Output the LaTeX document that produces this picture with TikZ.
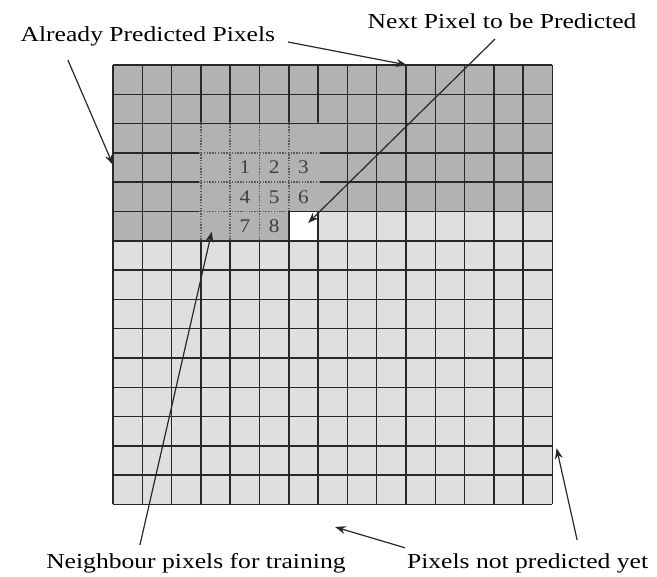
\documentclass[tikz,border=0pt]{standalone}
\usepackage{fontspec}
\setmainfont{Liberation Serif}
\usetikzlibrary{arrows.meta}
\definecolor{donepx}{RGB}{178,178,178}
\definecolor{todopx}{RGB}{223,223,223}
\definecolor{gridink}{RGB}{40,40,40}
\definecolor{dotink}{RGB}{90,90,90}

\begin{document}
\begin{tikzpicture}[x=0.7723cm,y=-0.7723cm,
  gridline/.style={gridink,line width=1.1pt},
  nbline/.style={dotink,densely dotted,line width=1.1pt},
  pointer/.style={-{Stealth[length=8pt,width=6pt]},gridink,line width=0.9pt},
  caption/.style={font=\fontsize{16}{19}\selectfont,xscale=1.2,inner sep=0pt,anchor=base},
  nblabel/.style={font=\fontsize{14.5}{17}\selectfont,black!75,xscale=1.1}]
 \useasboundingbox (-3.857,-2.218) rectangle (18.567,17.474);
 \fill[todopx] (0,0) rectangle (15,15);
 \fill[donepx] (0,0) rectangle (15,5);
 \fill[donepx] (0,5) rectangle (6,6);
 \fill[white] (6,5) rectangle (7,6);
 \foreach \i in {0,...,15}{
   \draw[gridline] (\i,0)--(\i,15);
   \draw[gridline] (0,\i)--(15,\i);
 }
 \fill[donepx] (2.95,1.97)--(7.05,1.97)--(7.05,5)--(6,5)--(6,6)--(2.95,6)--cycle;
 \draw[gridline] (0,2)--(15,2);
 \draw[gridline] (0,6)--(15,6);
 \foreach \x in {3,4,5}
   \draw[nbline] (\x,2)--(\x,6);
 \draw[nbline] (6,2)--(6,5);
 \foreach \y in {3,4}
   \draw[nbline] (3,\y)--(7,\y);
 \draw[nbline] (3,5)--(6,5);
 \draw[gridline] (6,5) rectangle (7,6);
 \foreach \n/\c/\r in {1/4/3,2/5/3,3/6/3,4/4/4,5/5/4,6/6/4,7/4/5,8/5/5}
   \node[nblabel] (n\n) at (\c+0.5,\r+0.5) {\n};
 \node[caption] (already) at (1.19,-0.795) {Already Predicted Pixels};
 \node[caption] (next) at (13.28,-1.253) {Next Pixel to be Predicted};
 \node[caption] (neighbour) at (2.83,17.18) {Neighbour pixels for training};
 \node[caption] (notyet) at (14.15,17.18) {Pixels not predicted yet};
 \coordinate (alreadyA) at (5.97,-0.785);
 \coordinate (alreadyB) at (-1.54,-0.17);
 \coordinate (nextA) at (13.04,-0.887);
 \coordinate (neighbourA) at (0.92,16.38);
 \coordinate (notyetA) at (9.97,16.48);
 \coordinate (notyetB) at (15.84,16.21);
 \coordinate (topTip) at (10.03,0);
 \coordinate (leftTip) at (0,3.41);
 \coordinate (nextTip) at (6.66,5.39);
 \coordinate (neighbourTip) at (3.37,5.69);
 \coordinate (bottomTip) at (7.58,15.77);
 \coordinate (rightTip) at (15.14,13.08);
 \draw[pointer] (alreadyA)--(topTip);
 \draw[pointer] (alreadyB)--(leftTip);
 \draw[pointer] (nextA)--(nextTip);
 \draw[pointer] (neighbourA)--(neighbourTip);
 \draw[pointer] (notyetA)--(bottomTip);
 \draw[pointer] (notyetB)--(rightTip);
\end{tikzpicture}
\end{document}
